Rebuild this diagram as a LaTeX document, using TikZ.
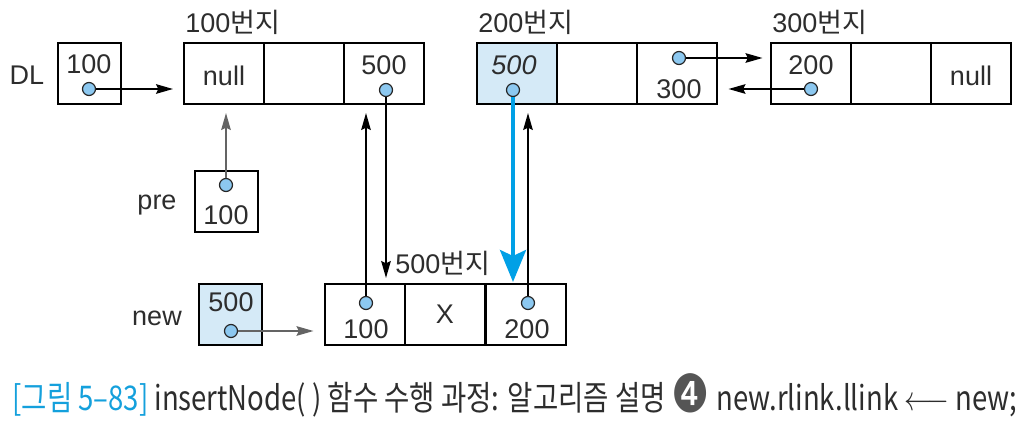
\documentclass[tikz,border=0pt]{standalone}
\usepackage{fontspec}
\usepackage{graphicx}
\setmainfont{Liberation Sans}
\newfontfamily\kr{Noto Sans CJK KR}
\newfontfamily\dv{DejaVu Sans}
\usetikzlibrary{arrows.meta}
\definecolor{txt}{RGB}{45,45,45}
\definecolor{dotfill}{RGB}{140,200,240}
\definecolor{cellfill}{RGB}{213,234,247}
\definecolor{bluearr}{RGB}{0,160,230}
\definecolor{capblue}{RGB}{20,160,220}
\definecolor{grayarr}{RGB}{100,100,100}
\definecolor{numgray}{RGB}{85,85,85}
\begin{document}
\begin{tikzpicture}[x=0.5pt,y=-0.5pt,
 cell/.style={draw=black, line width=1pt, minimum width=40pt, minimum height=30.5pt, inner sep=0pt, outer sep=0pt},
 sbox/.style={cell, minimum width=31.5pt},
 ptr/.style={circle, draw=black!85, fill=dotfill, line width=0.6pt, minimum size=6.5pt, inner sep=0pt},
 lbl/.style={font=\fontsize{13.5}{14}\selectfont, text=txt, inner sep=0pt},
 link/.style={-{Stealth[length=8.5pt,width=4.8pt,inset=1.2pt]}, line width=0.8pt, draw=black},
 glink/.style={link, draw=grayarr},
]
\useasboundingbox (0,0) rectangle (1025,423);

% DL
\node[lbl] (dl) at (27,75) {DL};
\node[sbox] (dlbox) at (89.5,73.5) {};
\node[lbl] (dlv) at (89,64) {100};

% node 100
\node[lbl, anchor=west] (la) at (185,22) {100{\kr 번지}};
\node[cell] (a1) at (224,73.5) {};
\node[cell] (a2) at (304,73.5) {};
\node[cell] (a3) at (384,73.5) {};
\node[lbl] (a1v) at (224,76) {null};
\node[lbl] (a3v) at (384,65) {500};

% node 200
\node[lbl, anchor=west] (lb) at (478,22) {200{\kr 번지}};
\node[cell, fill=cellfill] (b1) at (516.5,73.5) {};
\node[cell] (b2) at (597,73.5) {};
\node[cell] (b3) at (676.5,73.5) {};
\node[lbl, font=\fontsize{13.5}{14}\selectfont\itshape] (b1v) at (514,65) {500};
\node[lbl] (b3v) at (679,89) {300};

% node 300
\node[lbl, anchor=west] (lc) at (772,22) {300{\kr 번지}};
\node[cell] (c1) at (810.5,73.5) {};
\node[cell] (c2) at (891,73.5) {};
\node[cell] (c3) at (971,73.5) {};
\node[lbl] (c1v) at (811,65) {200};
\node[lbl] (c3v) at (971,76) {null};

% pre
\node[lbl] (pre) at (157,205) {pre};
\node[sbox] (prebox) at (226,201.5) {};
\node[lbl] (prev) at (226,215) {100};

% new
\node[lbl] (new) at (157,318) {new};
\node[sbox, fill=cellfill] (newbox) at (230.5,314.5) {};
\node[lbl] (newv) at (231,302) {500};

% node 500
\node[lbl, anchor=west] (ln) at (395,263) {500{\kr 번지}};
\node[cell] (n1) at (364.5,314.5) {};
\node[cell] (n2) at (445,314.5) {};
\node[cell] (n3) at (525.5,314.5) {};
\node[lbl] (n1v) at (366,329) {100};
\node[lbl] (n2v) at (445,314) {X};
\node[lbl] (n3v) at (527,329) {200};

% pointer dots
\node[ptr] (dlp) at (89,89) {};
\node[ptr] (a3p) at (386,90) {};
\node[ptr] (b1p) at (513,90) {};
\node[ptr] (b3p) at (679,58) {};
\node[ptr] (c1p) at (811,89) {};
\node[ptr] (prep) at (226,185) {};
\node[ptr] (newp) at (231,331) {};
\node[ptr] (n1p) at (366,303) {};
\node[ptr] (n3p) at (528,303) {};

% links
\draw[link, shorten >=5.5pt] (dlp) -- (a1.west |- dlp);
\draw[glink, shorten >=4.5pt] (prep) -- (prep |- a1.south);
\draw[link, shorten >=4.5pt] (n1p) -- (n1p |- a3.south);
\draw[link, shorten >=3pt] (a3p) -- (a3p |- n1.north);
\draw[link, shorten >=4.5pt] (n3p) -- (n3p |- b1.south);
\draw[link, shorten >=4pt] (b3p) -- (c1.west |- b3p);
\draw[link, shorten >=6pt] (c1p) -- (b3.east |- c1p);
\draw[glink, shorten >=5.5pt] (newp) -- (n1.west |- newp);
\draw[draw=bluearr, line width=2pt, -{Stealth[length=16pt,width=13pt,inset=3pt]}, shorten >=1pt] (b1p) -- (b1p |- n3.north);

% caption
\node[anchor=base west, inner sep=0pt] (cap) at (12,410) {\resizebox{502.5pt}{\height}{\fontsize{17}{19}\selectfont\kr
 {\color{capblue}[그림 5–83]} {\color{txt}insertNode( ) 함수 수행 과정: 알고리즘 설명 {\dv\color{numgray}\raisebox{-0.12ex}{\scalebox{1.55}{❹}}} new.rlink.llink $\longleftarrow$ new;}}};
\end{tikzpicture}
\end{document}
